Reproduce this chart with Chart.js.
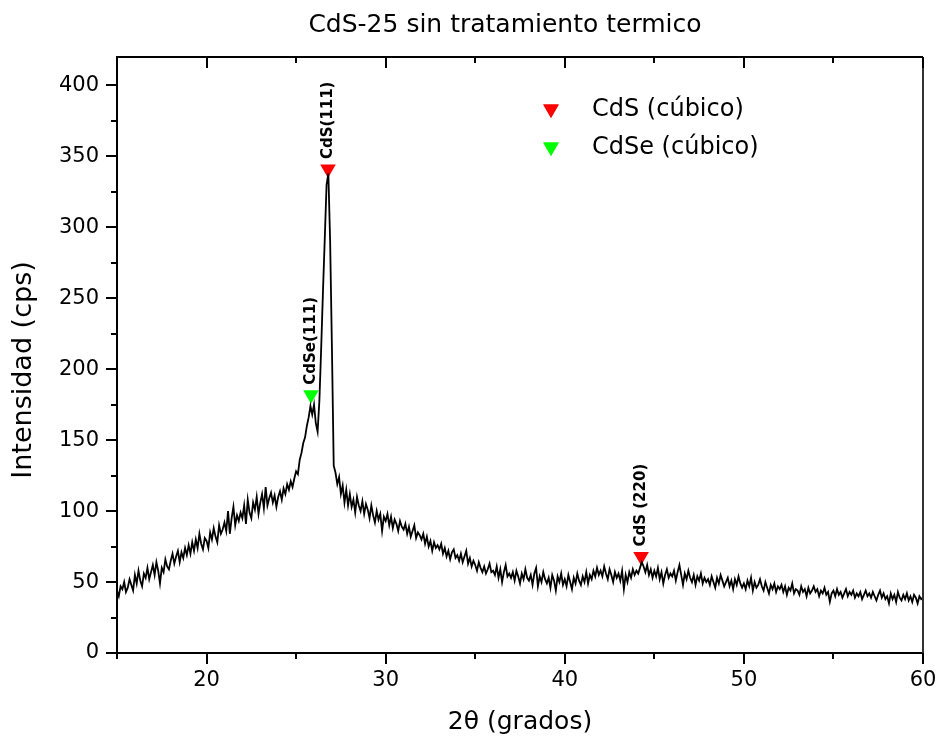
<!DOCTYPE html>
<html>
<head>
<meta charset="utf-8">
<script src="https://cdn.jsdelivr.net/npm/chart.js@4.4.0/dist/chart.umd.min.js"></script>
<style>
html, body { margin: 0; padding: 0; background: #fff; }
#chart { display: block; }
</style>
</head>
<body>
<canvas id="chart" width="943" height="738"></canvas>
<script>
const chartTitle = 'CdS-25 sin tratamiento termico'
const xTitle = '2\u03b8 (grados)'
const yTitle = 'Intensidad (cps)'

// scan: 15.0 to 60.0 deg, 0.1 deg per point
const angleStart = 15
const angleStep = 0.1
const intensity = [
    44, 40, 47, 45, 50, 43, 46, 52, 48, 44,
    55, 49, 58, 51, 47, 56, 53, 60, 52, 57,
    62, 55, 64, 58, 49, 60, 57, 66, 61, 59,
    65, 70, 63, 68, 72, 64, 71, 67, 74, 69,
    76, 70, 78, 72, 80, 74, 84, 77, 73, 81,
    79, 74, 85, 80, 88, 82, 78, 90, 84, 87,
    92, 86, 100, 84, 95, 103, 90, 97, 93, 99,
    95, 104, 91, 108, 99, 95, 106, 101, 110, 98,
    106, 112, 102, 117, 104, 109, 113, 106, 111, 103,
    110, 114, 108, 116, 112, 119, 115, 121, 117, 123,
    128, 126, 136, 141, 148, 152, 160, 166, 174, 168,
    175, 162, 156, 178, 215, 255, 292, 330, 338, 290,
    215, 132, 127, 119, 124, 112, 118, 106, 115, 104,
    112, 103, 108, 99, 110, 104, 100, 107, 98, 105,
    101, 95, 104, 97, 92, 100, 94, 98, 86, 96,
    93, 98, 90, 96, 88, 94, 91, 86, 93, 89,
    87, 91, 84, 89, 82, 86, 90, 81, 85, 83,
    80, 84, 77, 82, 75, 79, 72, 78, 74, 76,
    73, 77, 70, 74, 68, 72, 66, 71, 73, 67,
    69, 65, 70, 64, 68, 72, 63, 67, 61, 65,
    62, 58, 64, 60, 57, 61, 56, 59, 63, 57,
    58, 55, 61, 53, 59, 50, 57, 62, 54, 56,
    53, 57, 51, 58, 54, 49, 56, 52, 59, 53,
    51, 55, 48, 56, 60, 47, 54, 50, 57, 52,
    49, 53, 46, 55, 51, 44, 54, 50, 56, 48,
    52, 47, 55, 50, 45, 53, 49, 56, 51, 48,
    54, 50, 57, 49, 55, 52, 58, 54, 60, 55,
    58, 54, 61, 56, 52, 59, 55, 50, 57, 53,
    56, 51, 58, 45, 55, 50, 57, 53, 59, 55,
    58, 56, 60, 64, 61, 57, 62, 55, 59, 53,
    58, 54, 60, 52, 57, 49, 55, 59, 53, 56,
    54, 58, 51, 57, 62, 55, 48, 56, 52, 58,
    53, 50, 55, 48, 54, 51, 56, 49, 53, 50,
    52, 48, 54, 50, 46, 53, 49, 55, 51, 47,
    50, 53, 47, 51, 45, 52, 48, 54, 49, 46,
    49, 45, 51, 47, 53, 44, 50, 46, 48, 52,
    47, 44, 50, 46, 42, 48, 45, 49, 43, 47,
    45, 48, 43, 47, 41, 46, 44, 49, 42, 45,
    44, 41, 47, 43, 45, 40, 46, 42, 44, 47,
    43, 45, 40, 44, 42, 46, 41, 43, 36, 42,
    44, 40, 45, 41, 43, 39, 42, 45, 40, 43,
    41, 44, 39, 42, 40, 43, 38, 41, 44, 40,
    42, 39, 43, 40, 37, 41, 44, 39, 42, 38,
    40, 35, 42, 38, 41, 36, 43, 39, 37, 41,
    38, 42, 37, 40, 36, 41, 39, 35, 40, 38,
    39
]

const xMajorTicks = [20, 30, 40, 50, 60]
const xMinorTicks = [15, 25, 35, 45, 55]
const yMajorTicks = [0, 50, 100, 150, 200, 250, 300, 350, 400]
const yMinorTicks = [25, 75, 125, 175, 225, 275, 325, 375]

// phase markers
const cdsAngles = [26.78, 44.26]
const cdsMarks = [341, 68]
const cdsLabels = ['CdS(111)', 'CdS (220)']
const cdseAngles = [25.83]
const cdseMarks = [182]
const cdseLabels = ['CdSe(111)']
const legendLabels = ['CdS (c\u00fabico)', 'CdSe (c\u00fabico)']
const legendColors = ['#ff0000', '#00ff00']

var patternPoints = []
for (var i = 0; i < intensity.length; i++) {
    patternPoints.push({x: Math.round((angleStart + i * angleStep) * 10) / 10, y: intensity[i]})
}
var cdsPoints = cdsAngles.map((a, i) => ({x: a, y: cdsMarks[i]}))
var cdsePoints = cdseAngles.map((a, i) => ({x: a, y: cdseMarks[i]}))

const FONT = 'DejaVu Sans'

function setTicks(values) {
    return function (scale) {
        scale.ticks = values.map(v => ({value: v}))
    }
}

const framePlugin = {
    id: 'frame',
    afterDraw(chart) {
        const ctx = chart.ctx
        const area = chart.chartArea
        const xs = chart.scales.x
        const ys = chart.scales.y
        ctx.save()
        ctx.strokeStyle = '#000'
        ctx.lineWidth = 2
        ctx.beginPath()
        // top and right border
        ctx.moveTo(area.left, area.top)
        ctx.lineTo(area.right, area.top)
        ctx.stroke()
        ctx.strokeStyle = '#333'
        ctx.beginPath()
        ctx.moveTo(area.right, area.top)
        ctx.lineTo(area.right, area.bottom)
        ctx.stroke()
        ctx.strokeStyle = '#000'
        ctx.beginPath()
        function xt(v, len) {
            var px = Math.round(xs.getPixelForValue(v))
            ctx.moveTo(px, area.bottom)
            ctx.lineTo(px, area.bottom + len)
            ctx.moveTo(px, area.top)
            ctx.lineTo(px, area.top + len)
        }
        function yt(v, len) {
            var py = Math.round(ys.getPixelForValue(v))
            ctx.moveTo(area.left, py)
            ctx.lineTo(area.left - len, py)
        }
        xMajorTicks.forEach(v => xt(v, 11))
        xMinorTicks.forEach(v => xt(v, 6))
        yMajorTicks.forEach(v => yt(v, 11))
        yMinorTicks.forEach(v => yt(v, 6))
        ctx.stroke()

        // title and axis titles
        ctx.fillStyle = '#000'
        ctx.font = '25px ' + FONT
        ctx.textAlign = 'center'
        ctx.textBaseline = 'alphabetic'
        ctx.fillText(chartTitle, 505, 32)
        ctx.font = '25px ' + FONT
        ctx.fillText(xTitle, (area.left + area.right) / 2, 729)
        ctx.save()
        ctx.translate(31, 370)
        ctx.rotate(-Math.PI / 2)
        ctx.font = '27px ' + FONT
        ctx.fillText(yTitle, 0, 0)
        ctx.restore()

        // peak labels above the markers
        ctx.font = 'bold 15px ' + FONT
        ctx.textAlign = 'left'
        ctx.textBaseline = 'middle'
        function labels(datasetIndex, texts) {
            chart.getDatasetMeta(datasetIndex).data.forEach((el, i) => {
                ctx.save()
                ctx.translate(el.x, el.y - 10)
                ctx.rotate(-Math.PI / 2)
                ctx.fillText(texts[i], 0, 0)
                ctx.restore()
            })
        }
        labels(1, cdsLabels)
        labels(2, cdseLabels)

        // legend
        ctx.font = '24px ' + FONT
        ctx.textBaseline = 'middle'
        legendLabels.forEach((t, i) => {
            var y = 109 + i * 38
            ctx.fillStyle = legendColors[i]
            Chart.helpers.drawPoint(ctx, {pointStyle: 'triangle', rotation: 180, radius: 9, borderWidth: 0}, 551, y)
            ctx.fill()
            ctx.fillStyle = '#000'
            ctx.fillText(t, 592, y + 1)
        })
        ctx.restore()
    }
}

new Chart(document.getElementById('chart'), {
    type: 'scatter',
    data: {
        datasets: [
            {
                data: patternPoints,
                showLine: true,
                borderColor: '#000',
                borderWidth: 1.8,
                pointRadius: 0,
                tension: 0
            },
            {
                data: cdsPoints,
                pointStyle: 'triangle',
                rotation: 180,
                pointRadius: 9,
                backgroundColor: '#ff0000',
                borderWidth: 0
            },
            {
                data: cdsePoints,
                pointStyle: 'triangle',
                rotation: 180,
                pointRadius: 9,
                backgroundColor: '#00ff00',
                borderWidth: 0
            }
        ]
    },
    options: {
        responsive: false,
        animation: false,
        devicePixelRatio: 1,
        layout: {padding: {top: 57, right: 20, left: 0, bottom: 0}},
        plugins: {legend: {display: false}, tooltip: {enabled: false}},
        scales: {
            x: {
                type: 'linear',
                min: 15,
                max: 60,
                afterBuildTicks: setTicks(xMajorTicks),
                afterFit: function (scale) {
                    scale.height = 85
                    scale.paddingLeft = 0
                    scale.paddingRight = 0
                },
                grid: {display: false, drawTicks: false},
                border: {display: true, color: '#000', width: 2},
                ticks: {
                    color: '#000',
                    font: {family: FONT, size: 21},
                    padding: 15,
                    maxRotation: 0,
                    autoSkip: false
                }
            },
            y: {
                min: 0,
                max: 420,
                afterBuildTicks: setTicks(yMajorTicks),
                afterFit: function (scale) {
                    scale.width = 117
                    scale.paddingTop = 0
                    scale.paddingBottom = 0
                },
                grid: {display: false, drawTicks: false},
                border: {display: true, color: '#000', width: 2},
                ticks: {
                    color: '#000',
                    font: {family: FONT, size: 21},
                    padding: 18,
                    autoSkip: false
                }
            }
        }
    },
    plugins: [framePlugin]
});
</script>
</body>
</html>
